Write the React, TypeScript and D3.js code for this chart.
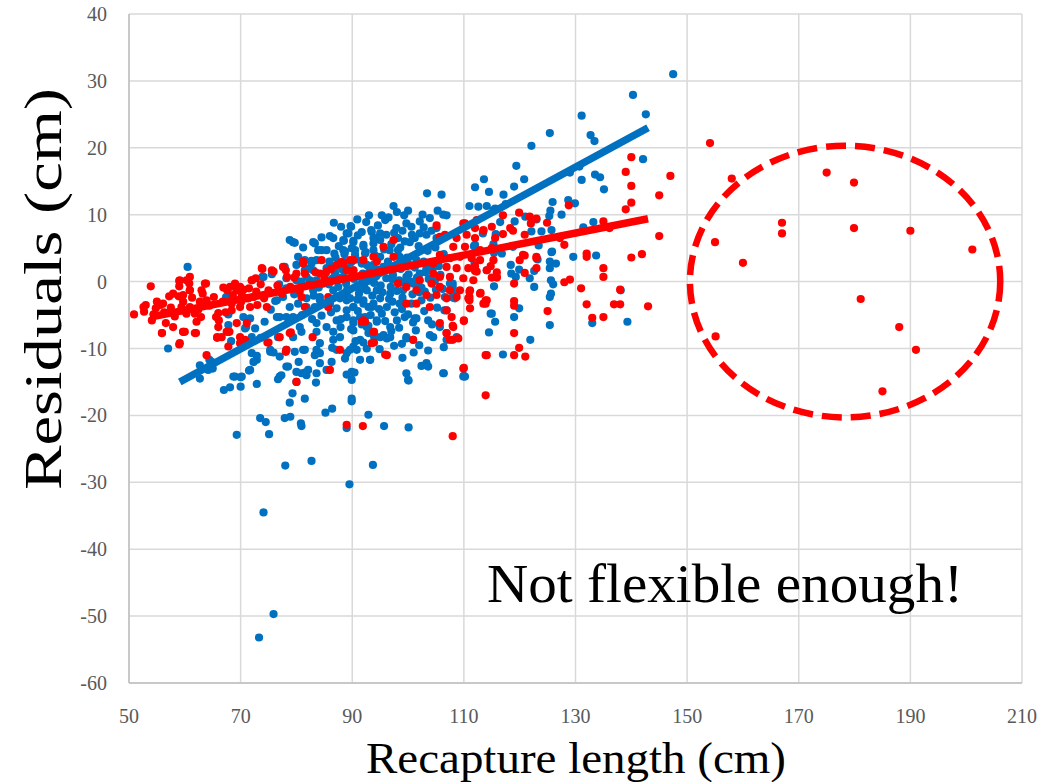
import React from "react";
import * as d3 from "d3";

// ---------- data ----------
const xTicks = [50, 70, 90, 110, 130, 150, 170, 190, 210];
const yTicks = [40, 30, 20, 10, 0, -10, -20, -30, -40, -50, -60];

const bluePoints: [number, number][] = [
  [147.5,31.0],[140.3,27.9],[142.6,25.0],[131.1,24.8],[125.4,22.2],[132.7,21.9],[133.4,21.0],[122.1,20.3],[142.1,18.3],[119.4,17.3],
  [113.6,15.3],[112.0,14.1],[120.8,15.3],[114.5,13.4],[119.0,14.2],[117.1,13.0],[131.1,15.2],[133.5,16.0],[134.4,15.6],[135.1,13.8],
  [129.0,16.3],[130.7,17.2],[111.0,11.3],[117.5,11.6],[125.9,11.9],[128.7,12.2],[129.9,11.7],[127.5,10.0],[125.5,10.6],[125.3,9.8],
  [121.0,9.7],[123.0,9.3],[119.1,9.0],[116.5,8.9],[133.2,8.9],[131.4,8.1],[123.9,7.5],[122.1,7.5],[125.7,7.7],[113.4,7.2],
  [115.7,7.1],[111.8,5.3],[115.3,5.6],[125.7,4.4],[129.6,3.7],[133.7,3.9],[116.8,4.2],[118.8,5.2],
  [138.1,-1.3],[139.3,-6.0],[133.0,-6.2],[125.4,-6.5],[121.9,-8.7],[117.0,-10.9],[114.5,-7.6],[114.8,-4.8],[115.6,-6.0],[119.0,-5.3],
  [119.9,-4.0],[115.4,-0.7],[121.8,0.5],[122.6,-0.8],[125.6,0.2],[126.0,-0.4],[125.6,-1.8],[125.4,-2.3],[125.8,4.5],[125.4,3.0],
  [126.5,2.7],[125.4,2.0],[123.2,3.3],[123.4,5.4],[118.4,2.5],[119.9,1.8],[118.5,1.2],[119.3,0.7],[122.6,1.6],[111.9,2.8],
  [115.4,4.3],[108.0,-0.3],[108.0,-0.8],[108.1,-2.4],[106.6,-2.3],[106.5,-4.3],[106.4,-9.8],[106.4,-13.7],[110.0,-14.1],
  [60.5,2.2],[67.4,-2.3],[67.8,-4.9],[67.8,-6.5],[68.3,-8.9],[70.5,-5.3],[71.7,-5.5],[71.0,-6.8],[72.6,-7.0],[57.0,-10.0],
  [74.1,0.7],[75.6,1.1],[76.2,-2.9],[77.0,-5.3],[78.2,-5.3],[79.4,-5.3],[77.9,2.2],[78.8,6.2],[79.4,5.9],[81.2,5.1],
  [83.0,5.9],[84.5,6.6],[86.6,6.5],[86.7,8.8],[84.5,4.7],[85.4,4.7],[80.0,2.5],[81.5,3.2],[82.7,2.7],[80.9,0.0],
  [82.4,0.2],[83.0,-1.3],[84.2,-2.3],[85.4,-3.3],[86.6,-1.3],[87.8,-2.5],[89.0,-1.8],[87.2,-4.0],[89.0,-5.3],[90.2,-3.8],
  [91.4,-1.3],[92.9,-3.8],[91.4,-5.3],[81.8,-3.8],[80.9,-7.5],[83.6,-7.5],[86.6,-7.5],[87.8,-8.3],[90.2,-7.3],[84.2,-9.2],[79.4,-8.3],
  [89.7,8.3],[91.7,7.4],[89.3,7.2],[93.5,7.4],[93.8,6.5],[95.0,6.2],[79.7,5.8],[83.3,5.7],[88.5,6.1],[90.2,6.1],
  [83.9,4.7],[86.8,4.2],[88.4,4.7],[89.9,5.0],[90.5,4.0],[92.0,5.5],[92.3,4.2],[93.8,4.7],[82.7,3.1],[83.6,3.2],
  [80.3,3.7],[81.5,1.7],[83.0,1.7],[85.4,2.0],[86.9,2.2],[88.4,3.0],[89.0,2.0],[90.2,1.7],[91.7,3.1],[92.6,2.5],
  [73.9,0.7],[78.2,0.5],[80.0,0.2],[81.8,0.7],[83.6,0.2],[85.4,0.2],[87.2,0.7],[76.5,-2.8],[77.6,-2.3],[78.8,-3.8],
  [80.3,-3.3],[81.8,-2.5],[83.3,-3.8],[84.2,-2.8],[86.0,-3.3],[87.2,-2.3],[89.0,-2.8],[90.2,-3.8],[92.0,-3.3],[93.5,-3.8],
  [95.0,-2.5],[76.5,-5.3],[78.8,-5.8],[80.6,-6.8],[83.6,-6.2],[85.4,-6.8],[87.2,-5.8],[90.2,-6.2],[92.6,-6.8],[94.4,-6.0],
  [72.0,-10.7],[72.9,-11.7],[75.3,-10.2],[77.0,-11.2],[79.7,-10.5],[81.5,-10.2],[84.2,-10.7],[86.3,-12.0],[89.0,-10.7],[91.4,-11.7],
  [93.2,-11.7],[82.1,-13.2],[83.6,-13.7],[85.4,-13.2],[72.0,-8.3],[70.8,-7.0],[62.7,-12.5],[64.8,-12.0],[64.2,-13.2],[68.7,-14.2],
  [70.2,-14.2],[71.7,-13.2],
  [64.4,-11.7],[65.0,-13.0],[62.7,-14.5],[67.0,-16.2],[68.1,-15.8],[69.0,-14.2],[70.0,-14.3],[70.0,-15.7],[69.3,-22.9],[71.5,-13.3],
  [72.9,-15.3],[73.5,-20.4],[74.5,-21.0],[75.1,-22.8],[74.1,-34.5],[75.9,-49.7],[73.3,-53.2],[78.0,-27.5],[82.7,-26.8],[89.5,-30.3],
  [93.7,-27.4],[77.0,-14.2],[78.5,-12.7],[79.3,-16.7],[78.8,-18.1],[81.5,-17.5],[81.5,-13.6],[80.0,-15.0],[77.9,-20.4],[78.9,-20.2],
  [80.8,-21.2],[80.9,-21.6],[83.5,-15.1],[85.2,-19.6],[86.4,-19.0],[89.0,-21.9],[89.9,-17.9],[92.9,-19.9],[95.7,-21.6],[100.1,-21.8],
  [100.1,-14.8],[92.6,-10.0],[89.9,-13.5],[89.0,-13.9],[90.4,-13.6],[84.2,-12.2],[83.3,-11.0],[83.6,-10.2],[78.2,-10.2],[81.2,-10.2],
  [80.4,-12.0],[78.2,-12.7],[81.8,-14.0],[80.9,-13.7],[80.0,-13.5],[77.3,-14.0],[76.7,-14.6],[76.7,-8.3],[75.3,-10.5],[75.9,-10.6],
  [72.9,-11.1],[72.3,-12.0],[86.6,-8.7],[87.2,-10.2],[89.6,-10.2],[90.8,-10.2],[90.2,-9.7],[91.4,-8.7],[92.9,-7.7],[95.0,-8.3],
  [96.2,-8.5],[99.7,-8.5],[101.2,-5.5],[98.0,-5.8],
  [103.4,13.2],[106.0,13.0],[97.4,11.3],[99.3,9.9],[100.0,10.6],[102.6,10.0],[103.9,9.5],[105.3,10.6],[106.3,10.0],[106.9,9.9],
  [112.6,11.2],[114.1,11.3],[115.6,10.9],[95.3,9.9],[95.9,9.2],[97.9,8.0],[95.0,7.2],[93.4,7.7],[89.0,7.2],[89.8,8.2],
  [99.7,8.7],[100.6,8.2],[102.1,9.0],[102.1,7.2],[105.1,8.0],[105.1,6.5],[103.3,7.0],[101.2,6.5],[99.4,6.0],[98.2,6.5],
  [96.7,4.7],[98.2,4.7],[93.8,5.7],[92.0,5.2],[90.2,5.9],[88.4,6.2],[88.7,4.5],[90.5,4.7],[95.0,3.7],[96.4,3.0],
  [98.5,3.7],[100.0,2.7],[101.5,3.2],[103.3,2.0],[102.1,1.2],[99.7,0.7],[97.3,1.0],[95.6,2.2],[93.8,2.5],[91.7,2.7],
  [89.6,1.7],[88.4,0.7],[90.8,-0.8],[92.6,-1.3],[94.4,-1.3],[96.8,-1.8],[99.1,-1.3],[100.9,-0.3],[101.8,-0.8],[103.0,-1.5],
  [102.4,-2.8],[100.6,-3.3],[98.5,-3.3],[96.2,-3.8],[93.8,-3.3],[92.0,-2.8],[89.6,-2.5],[89.0,-4.3],[90.2,-5.8],[92.3,-5.3],
  [94.4,-5.8],[96.8,-6.8],[99.4,-5.3],[101.5,-5.5],[103.6,-5.8],[105.7,-6.8],[106.9,-4.3],[108.1,-2.3],[107.5,-0.3],[95.6,-8.0],
  [96.8,-8.3],[99.7,-8.3],[103.9,-8.0],[104.5,-8.3],[106.9,-8.7],[108.7,-8.3],[93.2,-11.7],[99.7,-13.7],[103.3,-12.5],[106.3,-13.7],
  [110.2,-14.2],[112.0,5.5],[114.1,1.7],[115.0,-4.8],[115.3,10.7],[103.3,-12.2],[100.0,-14.7],[109.9,-14.2],[89.9,-14.7],[89.9,-17.5],
  [86.5,0.5],[87.5,-0.8],[88.2,1.8],[89.1,-1.2],[90.3,0.4],[91.2,-1.8],[91.9,1.2],[92.8,0.1],[93.6,-2.1],[94.3,0.8],
  [95.1,-0.6],[95.8,1.6],[96.6,-2.6],[97.2,0.3],[98.0,-1.4],[98.7,1.9],[99.3,-0.2],[100.1,1.1],[100.8,-1.9],[101.6,0.6],
  [102.4,-0.9],[103.1,1.4],[104.0,-2.4],[104.8,0.1],[105.5,2.3],[106.2,-1.1],[87.0,3.6],[88.6,4.1],[90.7,3.3],[92.4,4.4],
  [94.1,3.9],[95.7,4.8],[97.0,5.6],[98.6,5.1],[100.3,5.9],[101.9,5.3],[103.5,4.6],[104.9,5.1],[106.4,4.1],[86.2,-4.6],
  [88.0,-5.6],[89.8,-7.1],[91.0,-4.4],[92.9,-6.6],[94.8,-4.1],[95.9,-5.9],[97.6,-4.6],[98.4,-6.9],[100.0,-4.9],[101.4,-7.3],
  [102.9,-4.4],[104.3,-6.4],[105.2,-3.9],[84.0,-0.9],[85.2,1.2],[83.1,-2.1],[82.0,1.9],[86.0,6.8],[88.0,8.2],[90.9,9.3],
  [93.0,9.9],[94.6,8.4],[96.5,9.6],[98.0,10.4],[92.0,-9.1],[94.9,-10.1],[97.5,-9.6],[99.0,-11.4],[101.0,-10.6],[102.4,-12.6],
  [108.1,-1.8],[108.4,-2.5],[103.6,-12.7],
  [85.8,-0.4],[86.9,1.3],[88.9,-0.3],[89.8,2.9],[90.9,-2.7],[91.6,0.6],[92.2,-0.9],[93.1,2.0],[93.9,-0.2],[94.7,1.8],
  [95.4,-1.6],[96.1,0.5],[96.9,-0.8],[97.7,2.4],[98.4,0.2],[99.0,-2.4],[99.8,3.6],[100.5,0.0],[101.2,2.1],[102.0,-1.6],
  [102.8,3.0],[103.7,0.4],[104.4,1.9],[105.0,-1.2],[105.8,1.0],[97.2,-3.0],[98.9,-4.1],[95.3,-4.8],[93.3,-5.0],[91.7,-6.4],
  [90.6,-8.9],[93.9,-8.2],[97.0,-7.4],[98.9,-9.3],[100.9,-6.1],[102.0,-9.5],[103.6,-10.3],[87.9,-6.8],[86.4,-9.9],[88.7,-11.5],
  [96.1,7.0],[97.5,7.3],[99.0,7.6],[100.7,7.0],[102.8,8.1],[104.2,7.6],[94.4,6.5],[92.5,8.9],[91.0,6.9],[87.6,5.3],
  [85.9,3.0],[84.5,-5.1],[82.8,-5.6],[81.0,-5.0],[79.6,-1.9],[78.2,-1.0],[76.9,-0.4],[75.4,-4.2],[74.3,-6.0],[73.6,-8.4]
];

const redPoints: [number, number][] = [
  [140.0,18.6],[147.0,15.8],[139.0,16.4],[140.0,14.3],[145.0,12.9],[140.0,11.8],[139.0,10.8],[145.0,6.8],[141.9,4.1],[140.0,3.6],
  [132.0,4.2],[132.0,3.7],[135.0,9.0],[136.1,8.0],[119.9,10.3],[117.0,9.9],[121.8,9.7],[122.0,8.7],[123.0,9.4],[124.9,8.8],
  [128.8,11.4],[118.3,8.0],[118.8,7.6],[117.0,7.1],[115.0,8.2],[113.5,7.6],[112.0,8.0],[109.9,8.7],[120.9,7.0],[128.0,5.5],
  [127.2,6.5],[120.6,4.0],[123.0,3.7],
  [135.0,2.0],[135.0,0.7],[128.0,-0.1],[129.0,0.3],[131.0,-1.0],[132.0,-3.4],[133.0,-5.4],[135.0,-5.3],[136.9,-3.4],[138.0,-3.4],
  [138.0,-1.2],[143.0,-3.7],[125.0,-4.4],[119.0,-2.9],[119.0,-3.6],[119.0,-0.3],[113.9,-2.8],[113.9,-3.3],[111.0,-1.5],[111.0,-2.3],
  [111.0,-2.8],[113.0,-1.7],[119.0,-7.7],[119.9,-9.9],[119.0,-11.0],[121.0,-11.2],[113.9,-11.0],[110.0,-5.9],[108.0,-6.6],[106.9,-7.7],
  [108.0,-8.7],[109.0,-8.5],[110.0,-12.9],[113.9,-17.0],[108.0,-23.1],[112.0,2.3],[112.0,1.6],[114.8,2.3],[115.9,1.4],[115.0,0.6],
  [115.9,0.6],[120.0,3.2],[120.9,3.9],[120.9,1.3],[123.0,3.5],[123.0,2.0],
  [50.9,-4.9],[52.6,-3.8],[52.7,-4.5],[53.9,-0.7],[54.4,-4.9],[54.1,-5.8],[55.0,-3.0],[55.6,-3.5],[56.1,-3.3],[55.9,-7.7],
  [56.6,-6.2],[57.9,-6.8],[57.2,-2.2],[57.9,-1.8],[59.0,0.1],[59.0,-0.7],[58.9,-2.2],[60.0,-7.5],[60.9,0.7],[60.8,-0.3],
  [60.9,-1.3],[59.7,-3.0],[61.0,-4.0],[62.7,-3.0],[62.9,-5.3],[63.8,-0.3],[62.1,-6.0],[62.0,-7.7],[59.0,-9.4],[66.0,-4.7],
  [66.1,-5.8],[65.8,-8.4],[66.9,-0.9],[67.6,-1.3],[69.0,-0.5],[69.3,-1.3],[70.5,-1.2],[71.0,-2.5],[68.4,-3.3],[67.8,-7.5],
  [68.4,-4.3],[72.0,0.2],[72.7,0.5],[73.9,1.9],[75.9,1.5],[75.0,-1.3],[75.0,-9.1],[71.1,-6.2],[69.9,-3.8],[72.3,-2.3],
  [73.0,-3.5],[78.8,-7.7],[78.1,1.7],[78.3,0.7],[81.2,2.7],[81.5,1.2],[84.2,1.2],[84.8,-0.3],[85.4,1.5],[80.9,-2.3],
  [81.5,-3.8],[85.7,-2.3],[85.7,-3.8],[91.7,-6.0],[89.6,3.2],[90.2,1.7],
  [89.0,-21.4],[91.9,-21.6],[95.9,-10.9],[100.9,-8.7],[93.9,-9.1],[93.9,-7.5],[86.0,-13.2],[87.8,-10.2],[78.1,-10.5],[79.0,-7.6],
  [80.0,-15.0],[82.9,-8.3],[63.9,-11.0],[55.9,-7.7],[59.7,-7.5],[65.8,-8.3],[68.0,-7.5],[69.9,-8.3],[70.8,-8.7],[74.8,-9.1],[77.0,-8.3],
  [110.2,8.7],[112.3,9.2],[113.5,7.7],[115.6,6.5],[112.0,6.5],[110.5,7.0],[108.7,6.5],[106.6,7.0],[108.1,5.2],[110.2,5.2],
  [112.9,4.7],[115.0,5.0],[115.3,3.2],[112.9,3.2],[111.4,3.5],[109.3,3.7],[107.5,3.5],[105.7,4.0],[104.5,2.7],[106.9,2.2],
  [108.7,2.0],[110.8,2.0],[112.3,1.5],[114.1,1.7],[115.9,0.7],[111.7,0.2],[109.9,0.5],[107.5,0.7],[105.7,0.7],[104.5,1.2],
  [104.2,-0.3],[105.7,-0.8],[107.5,-1.3],[109.3,-1.3],[111.1,-1.3],[112.9,-1.8],[114.1,-2.8],[110.8,-2.5],[108.7,-2.3],[106.9,-2.5],
  [105.1,-2.0],[103.3,-2.0],[101.5,-1.3],[99.7,-0.8],[98.2,-0.3],[102.1,0.2],[99.7,-3.3],[101.5,-3.3],[103.9,-3.8],[106.9,-4.3],
  [111.1,-4.0],[113.5,-3.3],[107.8,-5.3],[110.0,-5.8],[105.7,-6.2],[108.1,-6.8],[107.5,-8.7],[106.9,-7.7],[100.9,-8.7],
  [96.2,-11.0],[93.8,-7.5],[92.0,-5.8],[114.1,-11.0],[109.9,-13.0],[90.2,3.2],[92.0,3.2],[88.4,2.7],[89.0,1.7],[97.4,6.2],
  [95.6,5.2],[93.8,3.7],[97.4,3.7],[105.1,8.4],[105.7,6.7],
  [59.1,0.2],[60.3,0.2],[60.9,-1.3],[59.7,-2.0],[59.4,-3.8],[60.9,-3.8],[60.3,-4.8],[61.8,-4.8],[59.7,-7.5],[61.8,-7.7],
  [59.1,-9.2],[63.0,-1.3],[63.9,-2.8],[63.6,-0.3],[66.0,-6.8],[66.6,-8.3],[67.5,-7.5],[67.8,-9.7],[69.9,-9.2],[69.3,-6.2],
  [68.1,-0.8],[69.0,-0.3],[69.9,-0.8],[70.2,-2.0],[71.4,-2.5],[71.7,-3.8],[74.7,-3.8],[72.0,0.2],[73.8,2.0],[75.6,1.7],
  [77.6,2.2],[80.0,1.2],[81.2,3.0],[84.5,3.2],[87.2,2.5],[92.3,-6.0],[93.5,-9.2],[78.2,-10.2],[94.4,3.0],
  [53.0,-3.5],[54.8,-4.0],[56.3,-4.6],[57.5,-3.9],[58.2,-5.2],[59.6,-4.3],[61.3,-2.4],[62.4,-4.2],[63.2,-1.8],[64.4,-3.6],
  [65.2,-2.3],[65.6,-5.3],[66.8,-3.0],[67.3,-4.6],[68.6,-2.0],[70.1,-3.0],[71.5,-1.0],[72.8,-1.5],[73.6,-0.4],[74.2,-2.5],
  [76.6,-0.6],[77.4,-1.8],[78.9,-0.8],[79.6,0.6],[80.6,-1.4],[82.2,-0.5],[83.4,1.4],[85.0,0.4],[86.2,1.9],[88.0,2.9],
  [154.1,20.7],[158.0,15.4],[175.0,16.3],[179.9,14.8],[167.0,8.8],[167.0,7.2],[179.9,8.0],[190.0,7.6],[201.1,4.8],[155.0,5.9],
  [160.0,2.8],[181.1,-2.6],[188.0,-6.8],[191.0,-10.2],[155.1,-8.2],[185.0,-16.4]
];

const blueTrend: [number, number][] = [[59.1, -15.0], [143.0, 23.0]];
const redTrend: [number, number][] = [[53.8, -5.3], [143.0, 9.4]];

// highlight ellipse (data units): center x, center y, radius x, radius y
const ellipseCenter: [number, number] = [178.3, 0];
const ellipseRadii: [number, number] = [27.8, 20.3];

const xTitle = "Recapture length (cm)";
const yTitle = "Residuals (cm)";
const note = "Not flexible enough!";

// ---------- chart ----------
const W = 1057, H = 782;
const left = 129, right = 1022, top = 14, bottom = 683;

export default function App() {
  const x = d3.scaleLinear().domain([50, 210]).range([left, right]);
  const y = d3.scaleLinear().domain([-60, 40]).range([bottom, top]);
  const line = d3.line<[number, number]>().x(d => x(d[0])).y(d => y(d[1]));
  const serif = "'Liberation Serif', 'DejaVu Serif', serif";
  const blue = "#0070C0";
  const red = "#FF0000";

  return (
    <svg width={W} height={H} style={{ position: "absolute", left: 0, top: 0, background: "#fff" }}>
      <rect x={0} y={0} width={W} height={H} fill="#fff" />
      {/* gridlines */}
      {xTicks.map(t => (
        <line key={"gx" + t} x1={x(t)} x2={x(t)} y1={top} y2={bottom} stroke="#d9d9d9" strokeWidth={1.5} />
      ))}
      {yTicks.map(t => (
        <line key={"gy" + t} x1={left} x2={right} y1={y(t)} y2={y(t)} stroke="#d9d9d9" strokeWidth={1.5} />
      ))}
      <line x1={left} x2={left} y1={top} y2={bottom} stroke="#bfbfbf" strokeWidth={1.5} />
      <line x1={left} x2={right} y1={bottom} y2={bottom} stroke="#bfbfbf" strokeWidth={1.5} />

      {/* tick labels */}
      {yTicks.map(t => (
        <text key={"ty" + t} x={107} y={y(t)} dy="0.35em" textAnchor="end" fontFamily={serif} fontSize={20} fill="#595959">
          {t}
        </text>
      ))}
      {xTicks.map(t => (
        <text key={"tx" + t} x={x(t)} y={716} dy="0.35em" textAnchor="middle" fontFamily={serif} fontSize={20} fill="#595959">
          {t}
        </text>
      ))}

      {/* points */}
      {bluePoints.map((p, i) => (
        <circle key={"b" + i} cx={x(p[0])} cy={y(p[1])} r={4.1} fill={blue} />
      ))}
      {redPoints.map((p, i) => (
        <circle key={"r" + i} cx={x(p[0])} cy={y(p[1])} r={4.1} fill={red} />
      ))}

      {/* trend lines */}
      <path d={line(blueTrend) || ""} stroke={blue} strokeWidth={7.5} fill="none" />
      <path d={line(redTrend) || ""} stroke={red} strokeWidth={7.5} fill="none" />

      {/* highlight ellipse */}
      <ellipse
        cx={x(ellipseCenter[0])}
        cy={y(ellipseCenter[1])}
        rx={x(ellipseCenter[0] + ellipseRadii[0]) - x(ellipseCenter[0])}
        ry={y(ellipseCenter[1]) - y(ellipseCenter[1] + ellipseRadii[1])}
        fill="none"
        stroke={red}
        strokeWidth={6.5}
        strokeDasharray="20 9"
      />

      {/* annotation */}
      <text x={487} y={602} fontFamily={serif} fontSize={54} textLength={476} lengthAdjust="spacingAndGlyphs" fill="#000">{note}</text>

      {/* axis titles */}
      <text x={366} y={773} fontFamily={serif} fontSize={44} textLength={420} lengthAdjust="spacingAndGlyphs" fill="#000">{xTitle}</text>
      <text transform={`translate(61, 490) rotate(-90)`} fontFamily={serif} fontSize={52} textLength={402} lengthAdjust="spacingAndGlyphs" fill="#000">{yTitle}</text>
    </svg>
  );
}
